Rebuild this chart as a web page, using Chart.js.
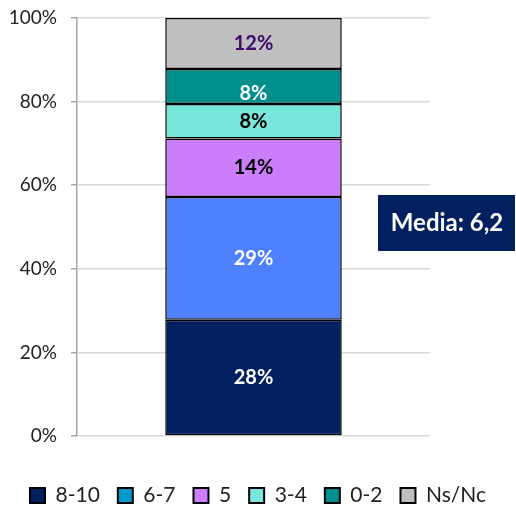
<!DOCTYPE html>
<html>
<head>
<meta charset="utf-8">
<script src="https://cdn.jsdelivr.net/npm/chart.js@4/dist/chart.umd.min.js"></script>
<style>
  html, body { margin: 0; padding: 0; background: #fff; }
  #wrap { width: 516px; height: 505px; }
</style>
</head>
<body>
<div id="wrap"><canvas id="chart"></canvas></div>
<script>
const categories = [""];
const seriesNames = ["8-10", "6-7", "5", "3-4", "0-2", "Ns/Nc"];
const seriesValues = [27.8, 29.4, 14.0, 8.2, 8.4, 12.2];
const barColors = ["#002060", "#4F81FF", "#CC7DFB", "#79E6DC", "#008F8C", "#BFBFBF"];
const legendColors = ["#002060", "#0099CC", "#CC7DFB", "#79E6DC", "#008F8C", "#BFBFBF"];
const labelColors = ["#ffffff", "#ffffff", "#000000", "#000000", "#ffffff", "#3B0C6B"];
const yTicks = [0, 20, 40, 60, 80, 100];
const mediaText = "Media: 6,2";

const FONT = "Lato, 'Open Sans', sans-serif";

const datasets = seriesNames.map((name, i) => ({
  label: name,
  data: [seriesValues[i]],
  backgroundColor: barColors[i],
  borderColor: "#000000",
  borderWidth: 1.5,
  borderSkipped: false,
  barPercentage: 0.5,
  categoryPercentage: 1
}));

// labels in the middle of each segment
const segmentLabels = {
  id: "segmentLabels",
  afterDatasetsDraw(chart) {
    const ctx = chart.ctx;
    ctx.save();
    ctx.font = "bold 20px " + FONT;
    ctx.textAlign = "center";
    ctx.textBaseline = "middle";
    chart.data.datasets.forEach((ds, i) => {
      const bar = chart.getDatasetMeta(i).data[0];
      let y = (bar.y + bar.base) / 2;
      if (i === 4) y += 7; // 0-2 label sits low in the segment
      ctx.fillStyle = labelColors[i];
      ctx.fillText(Math.round(ds.data[0]) + "%", bar.x, y);
    });
    ctx.restore();
  }
};

const mediaBox = {
  id: "mediaBox",
  afterDraw(chart) {
    const ctx = chart.ctx;
    ctx.save();
    ctx.fillStyle = "#002060";
    ctx.fillRect(378, 195, 137, 56);
    ctx.fillStyle = "#ffffff";
    ctx.font = "bold 24px " + FONT;
    ctx.textAlign = "center";
    ctx.textBaseline = "middle";
    ctx.fillText(mediaText, 447, 223);
    ctx.restore();
  }
};

new Chart(document.getElementById("chart"), {
  type: "bar",
  data: { labels: categories, datasets: datasets },
  options: {
    responsive: true,
    maintainAspectRatio: false,
    animation: false,
    layout: { padding: { top: 18, right: 0, left: 0, bottom: -11 } },
    scales: {
      x: {
        stacked: true,
        grid: { display: false, drawTicks: false },
        border: { display: false },
        ticks: { display: false },
        afterFit(axis) { axis.height = 31; }
      },
      y: {
        stacked: true,
        min: 0,
        max: 100,
        afterBuildTicks(axis) { axis.ticks = yTicks.map(v => ({ value: v })); },
        afterFit(axis) {
          axis.width = 77;
          axis.paddingTop = 0;
          axis.paddingBottom = 0;
        },
        grid: { color: "#D9D9D9", lineWidth: 1.5, tickLength: 6, tickColor: "#A6A6A6" },
        border: { display: true, color: "#A6A6A6", width: 1.5 },
        ticks: {
          color: "#222222",
          font: { family: FONT, size: 19 },
          padding: 14,
          callback: v => v + "%"
        }
      },
      // empty right axis just to keep the plot clear of the Media box
      yRight: {
        position: "right",
        display: true,
        min: 0,
        max: 100,
        grid: { display: false, drawTicks: false },
        border: { display: false },
        ticks: { display: false },
        afterFit(axis) {
          axis.width = 86;
          axis.paddingTop = 0;
          axis.paddingBottom = 0;
        }
      }
    },
    plugins: {
      legend: {
        position: "bottom",
        align: "center",
        labels: {
          color: "#222222",
          font: { family: FONT, size: 21 },
          boxWidth: 15,
          boxHeight: 15,
          padding: 18,
          generateLabels(chart) {
            return seriesNames.map((name, i) => ({
              text: name,
              fillStyle: legendColors[i],
              strokeStyle: "#000000",
              lineWidth: 2,
              datasetIndex: i,
              fontColor: "#222222"
            }));
          }
        }
      },
      tooltip: { enabled: false }
    }
  },
  plugins: [segmentLabels, mediaBox]
});
</script>
</body>
</html>
